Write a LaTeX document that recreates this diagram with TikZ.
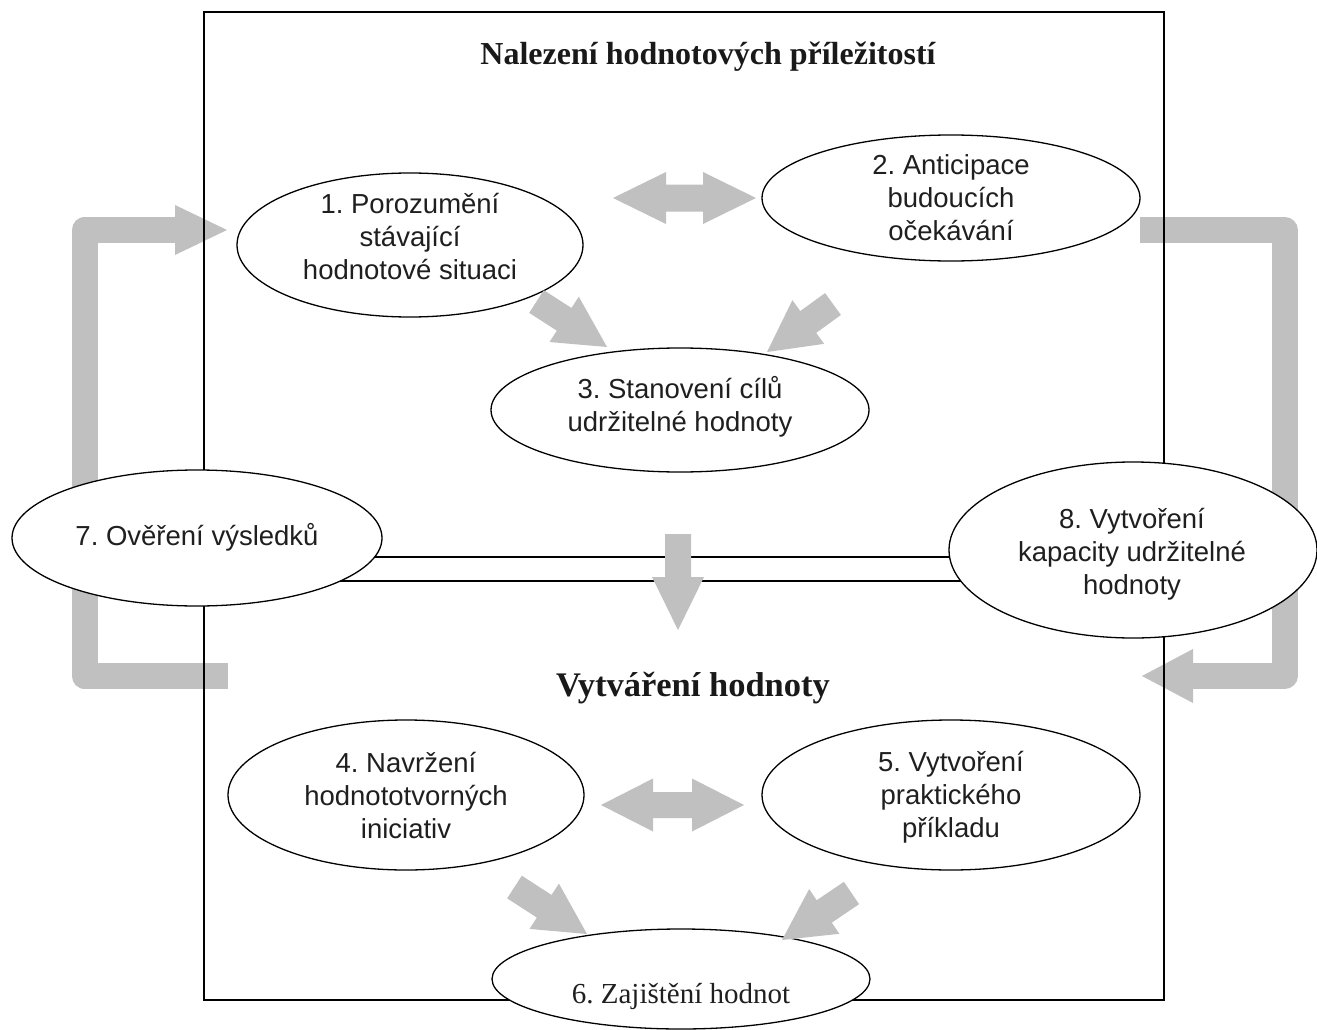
\documentclass[tikz,border=0pt]{standalone}
\usepackage{fontspec}
\setmainfont{Liberation Serif}
\newfontfamily\arialf{Liberation Sans}
\usetikzlibrary{calc,shapes.geometric,backgrounds}
\definecolor{arrgray}{RGB}{192,192,192}
\frenchspacing

% block arrow: tail, tip, shaft half-width, head half-width, head length
\newcommand\blockarrow[5]{%
  \coordinate (ba-h) at ($(#2)!#5!(#1)$);
  \fill[arrgray] ($(#1)!#3!90:(#2)$) -- ($(ba-h)!#3!90:(#2)$) -- ($(ba-h)!#4!90:(#2)$) -- (#2)
    -- ($(ba-h)!#4!-90:(#2)$) -- ($(ba-h)!#3!-90:(#2)$) -- ($(#1)!#3!-90:(#2)$) -- cycle;
}
% double block arrow: end1, end2, shaft half-width, head half-width, head length
\newcommand\dblarrow[5]{%
  \coordinate (da-a) at ($(#1)!#5!(#2)$);
  \coordinate (da-b) at ($(#2)!#5!(#1)$);
  \fill[arrgray] (#1) -- ($(da-a)!#4!90:(#2)$) -- ($(da-a)!#3!90:(#2)$) -- ($(da-b)!#3!-90:(#1)$)
    -- ($(da-b)!#4!-90:(#1)$) -- (#2) -- ($(da-b)!#4!90:(#1)$) -- ($(da-b)!#3!90:(#1)$)
    -- ($(da-a)!#3!-90:(#2)$) -- ($(da-a)!#4!-90:(#2)$) -- cycle;
}

\begin{document}
\begin{tikzpicture}[x=1pt,y=-1pt,
  ell/.style={ellipse, draw, fill=white, line width=1.3pt, inner sep=0pt},
  lbl/.style={align=center, font=\arialf\fontsize{27.5}{33}\selectfont, text=black!88},
  ttl/.style={font=\bfseries\fontsize{32}{38}\selectfont, text=black!90},
  loopbar/.style={draw=arrgray, line width=26pt, line join=round},
  frame/.style={line width=1.3pt},
  dline/.style={line width=1.5pt}
  ]
\useasboundingbox (0,0) rectangle (1317,1030);

% ellipses
\node[ell, minimum width=346, minimum height=144] (e1) at (410,245) {};
\node[ell, minimum width=378, minimum height=126] (e2) at (951,198) {};
\node[ell, minimum width=378, minimum height=124] (e3) at (680,410) {};
\node[ell, minimum width=356, minimum height=150] (e4) at (406,795) {};
\node[ell, minimum width=378, minimum height=150] (e5) at (951,795) {};
\node[ell, minimum width=378, minimum height=100] (e6) at (681,979) {};
\node[ell, minimum width=370, minimum height=136] (e7) at (197,538) {};
\node[ell, minimum width=368, minimum height=176] (e8) at (1133,550) {};

% helper coordinates
\coordinate (yl1) at (0,557);
\coordinate (yl2) at (0,581);
\coordinate (lA) at (228,676);
\coordinate (lB) at (84.5,676);
\coordinate (lC) at (84.5,230);
\coordinate (lD) at (176,230);
\coordinate (lTip) at (227,230);
\coordinate (rA) at (1140,230);
\coordinate (rB) at (1284.5,230);
\coordinate (rC) at (1284.5,676);
\coordinate (rD) at (1192,676);
\coordinate (rTip) at (1142,676);

\begin{scope}[on background layer]
  % feedback loops
  \draw[loopbar] (lA) -- (lB) -- (lC) -- (lD);
  \fill[arrgray] ($(lTip)+(-52,-25)$) -- (lTip) -- ($(lTip)+(-52,25)$) -- cycle;
  \draw[loopbar] (rA) -- (rB) -- (rC) -- (rD);
  \fill[arrgray] ($(rTip)+(51,-27)$) -- (rTip) -- ($(rTip)+(51,27)$) -- cycle;
  % frame
  \draw[frame] (204,12) rectangle (1164,1000);
  % double line between 7 and 8
  \draw[dline] (e7.center |- yl1) -- (e8.center |- yl1);
  \draw[dline] (e7.center |- yl2) -- (e8.center |- yl2);
\end{scope}

% block arrows
\coordinate (a13t) at (536.5,301.5); \coordinate (a13h) at (607,347);
\coordinate (a23t) at (833,304);     \coordinate (a23h) at (767,352);
\coordinate (a46t) at (514.5,887);   \coordinate (a46h) at (587,934);
\coordinate (a56t) at (851.5,893);   \coordinate (a56h) at (782,940);
\coordinate (cdt) at (678,534);      \coordinate (cdh) at (678,630);
\coordinate (d12a) at (613,198);     \coordinate (d12b) at (756,198);
\coordinate (d45a) at (601,805);     \coordinate (d45b) at (744,805);

\blockarrow{a13t}{a13h}{13.5pt}{27pt}{51pt}
\blockarrow{a23t}{a23h}{13.5pt}{27pt}{51pt}
\blockarrow{a46t}{a46h}{13.5pt}{27pt}{51pt}
\blockarrow{a56t}{a56h}{13.5pt}{27pt}{51pt}
\blockarrow{cdt}{cdh}{13pt}{26pt}{53pt}
\dblarrow{d12a}{d12b}{13.5pt}{26pt}{53pt}
\dblarrow{d45a}{d45b}{13pt}{26.5pt}{52pt}

% titles
\node[ttl] (t1) at (708,57) {Nalezení hodnotových příležitostí};
\node[ttl, font=\bfseries\fontsize{34.5}{40}\selectfont] (t2) at (693,688) {Vytváření hodnoty};

% labels
\node[lbl] (l1) at (410,237) {1. Porozumění\\stávající\\hodnotové situaci};
\node[lbl] (l2) at (951,198) {2. Anticipace\\budoucích\\očekávání};
\node[lbl] (l3) at (680,407) {3. Stanovení cílů\\udržitelné hodnoty};
\node[lbl] (l4) at (406,796) {4. Navržení\\hodnototvorných\\iniciativ};
\node[lbl] (l5) at (951,797) {5. Vytvoření\\praktického\\příkladu};
\node[lbl] (l7) at (197,537) {7. Ověření výsledků};
\node[lbl] (l8) at (1132,554) {8. Vytvoření\\kapacity udržitelné\\hodnoty};
\node[font=\fontsize{29}{34}\selectfont, text=black!88, anchor=base] (l6) at (681,1003) {6. Zajištění hodnot};
\end{tikzpicture}
\end{document}
